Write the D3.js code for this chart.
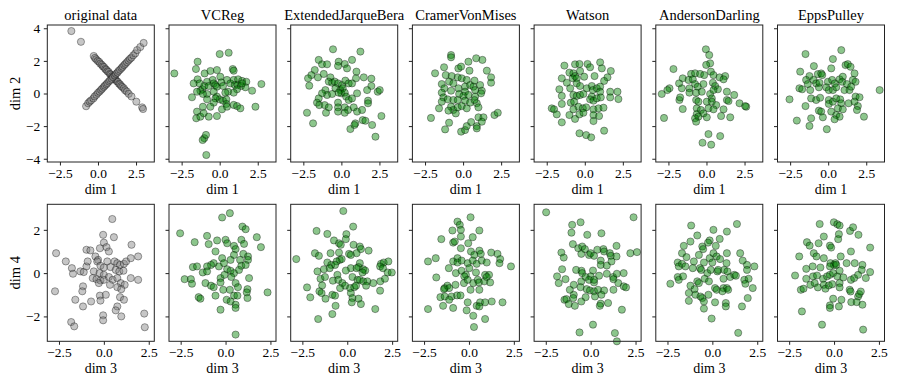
<!DOCTYPE html>
<meta charset="utf-8">
<style>

body {
  margin: 0;
  background: #fff;
}

text {
  font-family: "Liberation Serif", "DejaVu Serif", serif;
  fill: #000;
}

.frame {
  fill: none;
  stroke: #222;
  stroke-width: 1;
}

.tick line {
  stroke: #222;
}

</style>
<body>
<script src="https://cdn.jsdelivr.net/npm/d3@7"></script>
<script>

var methods = ["original data", "VCReg", "ExtendedJarqueBera", "CramerVonMises", "Watson", "AndersonDarling", "EppsPulley"];
var xLabels = ["dim 1", "dim 3"];
var yLabels = ["dim 2", "dim 4"];
var xTicks = [-2.5, 0, 2.5];
var yTicksTop = [-4, -2, 0, 2, 4];
var yTicksBottom = [-2, 0, 2];
var xDomainTop = [-3.33, 3.70];
var xDomainBottom = [-3.15, 2.81];
var yDomainTop = [-4.2, 4.2];
var yDomainBottom = [-3.15, 3.18];

// dims 1-2
var orig12 = [[-1.75,3.83],[-1.12,3.17],[-0.28,2.3],[-0.2,2.18],[-0.12,2.1],[-0.02,2.0],[0.08,1.94],[0.15,1.83],[0.25,1.76],[0.32,1.66],[0.4,1.62],[0.48,1.5],[0.55,1.46],[0.62,1.36],[0.7,1.32],[0.78,1.2],[0.85,1.16],[0.92,1.06],[1.0,1.02],[1.08,0.9],[1.15,0.86],[1.22,0.76],[1.3,0.72],[1.38,0.6],[1.45,0.56],[1.52,0.46],[1.6,0.4],[1.7,0.32],[1.78,0.2],[1.9,0.12],[2.02,-0.02],[2.2,-0.18],[2.52,-0.5],[2.9,-0.85],[2.96,-0.95],
  [-0.78,-0.78],[-0.65,-0.6],[-0.55,-0.5],[-0.45,-0.42],[-0.3,-0.3],[-0.22,-0.18],[-0.1,-0.08],[0.0,0.04],[0.1,0.12],[0.2,0.22],[0.28,0.3],[0.38,0.4],[0.45,0.48],[0.55,0.56],[0.62,0.64],[0.72,0.74],[0.8,0.82],[0.9,0.9],[0.98,1.0],[1.1,1.1],[1.18,1.2],[1.28,1.28],[1.35,1.38],[1.45,1.46],[1.55,1.56],[1.62,1.64],[1.72,1.74],[1.8,1.82],[1.9,1.92],[2.0,2.02],[2.1,2.12],[2.2,2.2],[2.32,2.34],[2.45,2.46],[2.57,2.66],[2.78,2.85],[3.0,3.1]];
var vcreg12 = [[-2.98,1.23],[-1.45,1.95],[-1.56,1.5],[-0.99,1.23],[-0.61,1.38],[-0.18,1.44],[0,2.42],[0.59,2.5],[0.86,1.5],[0.92,1.4],[-0.46,0.83],[0.48,0.83],[0.04,1.03],[-1.45,0.87],[-1.71,0.62],[-1.32,0.62],[-0.83,0.72],[-1.14,0.26],[-1.27,0.17],[-1.82,-0.23],[-1.49,0.11],[-1.01,0.46],[-0.72,0.46],[-0.39,0.62],[-0.28,0.52],[-0.18,0.42],[0.11,0.68],[0.22,0.46],[0.7,0.62],[0.92,0.83],[1.21,0.87],[1.47,0.77],[1.75,0.72],[0.99,0.52],[1.18,0.52],[1.4,0.46],[1.69,0.38],[2.13,0.17],[2.74,0.58],[1.14,0.26],[0.92,0.05],[0.55,0.11],[0.37,0.05],[-0.39,0.11],[-0.83,-0.03],[-1.1,-0.03],[-0.18,-0.19],[0,-0.36],[0.22,-0.44],[0.44,-0.36],[-0.28,-0.3],[-0.39,-0.56],[-0.83,-0.36],[-0.61,-0.81],[0.44,-0.64],[0.15,-0.97],[0.48,-0.81],[0.92,-0.7],[1.14,-0.77],[1.36,-0.91],[2.35,-0.81],[-1.1,-0.81],[-1.49,-1.11],[-1.54,-1.52],[-1.27,-1.42],[-1.05,-1.21],[-0.72,-1.42],[-0.18,-1.38],[-1.01,-2.74],[-1.12,-2.85],[-0.9,-2.54],[-0.88,-3.77],[1.47,0.62]];
var ejb12 = [[-0.55,2.71],[1.25,2.57],[-1.49,2.06],[-0.18,1.95],[0.22,1.81],[0.7,2.06],[0.37,1.54],[-1.27,1.79],[-0.94,1.79],[-0.22,1.69],[-1.75,1.44],[-1.97,1.13],[-2.19,0.93],[-2.11,0.48],[-1.54,0.99],[-1.16,1.2],[-0.72,0.99],[0.99,1.34],[0.96,0.93],[1.47,0.99],[1.97,0.91],[1.97,0.46],[2.39,0.11],[2.52,0.21],[1.69,0.21],[-0.83,0.73],[-0.61,0.66],[-0.44,0.73],[-0.22,0.62],[0.04,0.52],[0.26,0.79],[0.48,0.62],[0.7,0.62],[-1.05,0.21],[-0.94,-0.09],[-1.27,0.01],[-0.39,0.32],[-0.07,0.21],[0.09,0.32],[0,0.01],[0.22,0.05],[0.31,-0.19],[0.48,-0.4],[0.7,-0.3],[1.03,0.01],[-0.18,0.05],[-0.61,-0.03],[-1.49,-0.3],[-1.6,-0.56],[-1.45,-0.71],[-1.1,-0.71],[-0.83,-0.85],[-1.01,-1.18],[-0.22,-0.56],[-0.22,-0.85],[0.22,-0.85],[0.44,-1.01],[0.22,-1.18],[-0.22,-1.11],[0.81,-0.85],[1.03,-1.11],[1.36,-1.01],[1.75,-0.44],[1.75,-0.6],[-2.26,-1.18],[-1.86,-1.83],[0.59,-2.18],[0.92,-1.83],[0.86,-1.93],[1.4,-1.63],[1.58,-1.67],[2.02,-1.93],[2.24,-2.65],[2.63,-1.38]];
var cvm12 = [[-0.79,2.36],[-0.79,2.22],[0.86,2.16],[1.27,2.06],[0.35,1.95],[-1.25,1.61],[-0.31,1.54],[-0.13,1.65],[0.42,1.4],[1.56,1.4],[-1.84,1.24],[-1.14,1.13],[-0.75,1.07],[-0.35,0.99],[-0.09,0.93],[0.24,0.83],[0.75,0.79],[1.84,0.99],[1.84,0.66],[-1.4,0.58],[-0.92,0.73],[-0.64,0.62],[-1.23,0.32],[-0.79,0.17],[-0.31,0.32],[0.13,0.42],[0.46,0.52],[0.68,0.42],[1.12,0.52],[1.23,0.17],[0.79,0.21],[0.13,0.11],[-0.26,-0.03],[0.02,-0.15],[0.35,-0.09],[0.79,-0.19],[1.18,0.01],[-1.4,0.05],[-1.29,-0.24],[-1.4,-0.5],[-1.01,-0.36],[-0.64,-0.4],[-0.35,-0.4],[0.13,-0.44],[0.46,-0.56],[0.9,-0.6],[0.75,-0.4],[1.01,-0.85],[-0.79,-0.81],[-0.64,-1.01],[-0.48,-1.22],[-0.35,-0.85],[-0.09,-0.77],[0.24,-0.91],[-1.58,-0.91],[-0.96,-1.05],[-2.11,-1.5],[-0.92,-1.79],[-1.18,-2.2],[-0.13,-2.34],[0.13,-2.24],[0.24,-2.0],[0.53,-1.75],[0.9,-2.0],[0.9,-2.14],[1.01,-1.46],[1.34,-1.46],[1.23,-1.73],[2.06,-1.32],[2.28,-1.18]];
var watson12 = [[-1.34,1.71],[-0.64,1.79],[-0.35,1.81],[0.18,1.81],[0.35,1.61],[1.01,1.91],[1.12,1.54],[1.71,1.38],[-1.51,0.93],[-1.01,1.28],[-0.75,1.24],[-0.64,1.07],[-0.79,0.93],[-0.53,0.93],[-0.31,1.38],[-0.04,1.03],[0.64,1.07],[1.49,0.99],[1.27,0.77],[-1.18,0.66],[-0.53,0.62],[-0.31,0.46],[-0.96,0.32],[-1.67,0.26],[-1.51,-0.15],[-0.75,-0.09],[-0.53,-0.15],[-0.31,-0.09],[-0.09,-0.03],[0.13,0.32],[0.46,0.46],[0.53,0.21],[0.79,0.32],[1.01,0.42],[1.01,0.11],[1.67,0.11],[2.15,0.11],[2.21,-0.34],[1.67,-0.24],[0.46,-0.19],[0.35,-0.36],[0.57,-0.44],[0.79,-0.3],[1.05,-0.24],[-1.51,-0.64],[-0.92,-0.56],[-0.7,-0.5],[-0.42,-0.81],[-0.13,-0.91],[0.09,-0.85],[0.57,-0.97],[0.9,-0.91],[1.23,-0.87],[-0.75,-0.97],[-1.01,-1.32],[-0.35,-1.28],[-0.09,-1.18],[0.57,-1.32],[0.94,-1.38],[0.57,-1.69],[-2.17,-0.91],[-2.02,-0.97],[-1.84,-1.28],[-1.51,-1.77],[-0.64,-1.56],[1.27,-2.28],[-0.35,-2.44],[0.09,-2.55],[0.42,-2.69]];
var ad12 = [[-0.04,2.71],[0.18,2.36],[0.24,1.85],[-0.02,1.75],[-2.17,1.5],[-1.01,1.2],[-0.75,1.24],[-0.42,1.2],[-0.15,1.13],[0.29,1.34],[0.46,1.13],[0.86,0.99],[1.23,1.07],[1.12,0.87],[-1.56,0.93],[-1.18,0.83],[-0.9,0.87],[-0.75,0.58],[-1.8,0.62],[-1.62,0.32],[-2.43,0.32],[-2.57,0.21],[-2.94,-0.03],[-1.12,0.32],[-0.57,0.42],[-0.2,0.58],[0.42,0.66],[0.57,0.46],[0.75,0.26],[-1.12,0.05],[-0.68,0.05],[-0.31,0.11],[0.24,-0.03],[0.35,-0.3],[0.46,0.21],[1.34,0.11],[1.82,-0.09],[1.34,-0.4],[1.45,-0.46],[-1.78,-0.4],[-1.73,-0.24],[-0.68,-0.4],[-0.53,-0.5],[0.02,-0.5],[0.35,-0.5],[0.64,-0.71],[1.12,-0.97],[2.17,-0.6],[2.61,-0.81],[2.54,-0.77],[-1.56,-0.95],[-0.64,-0.91],[-0.37,-1.01],[0.13,-0.91],[0.46,-0.97],[-0.64,-1.26],[-0.2,-1.22],[-0.53,-1.42],[-0.75,-1.52],[-0.68,-1.73],[0.02,-1.46],[0.96,-1.38],[1.56,-1.46],[-2.79,-1.5],[0.13,-2.49],[0.9,-2.61],[-0.26,-3.02],[0.31,-3.14]];
var ep12 = [[-1.49,2.42],[0.86,2.66],[0.31,2.11],[-0.94,1.68],[-1.84,1.34],[1.14,1.74],[1.29,1.8],[1.47,1.64],[1.73,1.23],[0.2,1.54],[-1.23,1.07],[-0.68,1.19],[-0.46,1.23],[-0.39,1.13],[-1.45,0.83],[-1.34,0.58],[-0.96,0.83],[-0.79,0.62],[-0.61,0.38],[-0.57,0.66],[-0.02,0.72],[0.26,0.83],[0.44,0.62],[0.75,0.87],[0.96,1.03],[0.92,0.72],[1.23,0.58],[1.62,0.83],[1.8,0.72],[-1.89,0.32],[-1.71,0.26],[-1.18,0.21],[-0.13,0.38],[0.04,0.21],[0.31,0.21],[0.53,0.38],[1.07,0.21],[1.4,0.21],[1.51,0.42],[3.38,0.21],[-2.54,-0.36],[-1.49,-0.77],[-1.12,-0.3],[-0.79,-0.4],[-0.53,-0.26],[0.04,-0.4],[0.04,-0.64],[0.31,-0.5],[0.53,-0.3],[0.79,-0.36],[0.86,-0.6],[0.64,-0.91],[0.96,-0.97],[1.34,-0.6],[1.8,-0.19],[2.06,-0.23],[1.73,-0.5],[1.95,-0.77],[1.89,-1.01],[-0.61,-1.05],[-0.46,-1.11],[0.2,-1.11],[0.53,-1.32],[0.75,-1.42],[-0.35,-1.46],[0.42,-1.58],[2.35,-1.42],[-1.12,-1.52],[-2.06,-1.66],[-1.23,-1.99],[-0.09,-2.19]];

// dims 3-4
var orig34 = [[0.47,2.5],[-0.04,1.77],[0.56,1.66],[1.54,1.31],[0,1.41],[-0.22,1.15],[0.15,1.2],[0.28,1.0],[-0.97,1.08],[-0.75,1.05],[-2.66,0.92],[-2.12,0.54],[-1.78,0.23],[-1.72,-0.03],[-1.31,0.08],[-1.12,0.05],[-0.97,0.31],[-0.9,0.54],[-0.47,0.77],[-0.32,0.61],[-0.37,0.54],[0.19,0.54],[0.6,0.54],[0.75,0.46],[0.9,0.38],[1.12,0.43],[1.24,0.54],[1.5,0.69],[1.91,0.77],[-0.19,0.34],[0,0.26],[0.37,0.28],[0.66,0.15],[0.86,0.08],[1.09,0.11],[-0.56,0.08],[-0.24,0],[0,-0.08],[-0.62,-0.23],[-0.41,-0.28],[-0.19,-0.34],[-0.28,-0.46],[0,-0.31],[0.28,-0.18],[0.49,-0.31],[0.75,-0.23],[0.94,-0.46],[1.16,-0.54],[1.5,-0.23],[1.91,-0.31],[0.34,-0.54],[0.75,-0.65],[0.97,-0.74],[-1.16,-0.61],[-1.2,-0.84],[-2.72,-0.84],[-0.22,-1.04],[0.11,-1.0],[0.9,-1.11],[1.12,-1.23],[-1.59,-1.23],[-1.16,-1.54],[-0.71,-1.31],[-0.19,-1.27],[0.75,-1.54],[0.66,-1.72],[-0.04,-1.95],[-0.04,-2.18],[0.97,-2.0],[-1.82,-2.26],[-1.65,-2.46],[2.25,-1.87],[2.28,-2.5]];
var vcreg34 = [[-2.53,1.84],[-0.19,2.57],[0.24,2.77],[-1.72,1.43],[-1.03,1.72],[-0.47,1.51],[0,1.54],[-0.94,1.34],[-0.56,1.0],[0.09,1.38],[0.47,1.26],[0.56,1.11],[0.94,2.15],[1.12,2.03],[0.88,1.54],[1.03,1.35],[1.74,1.66],[1.97,1.2],[0.47,0.84],[0.99,0.89],[1.25,0.77],[1.25,0.61],[0.81,0.61],[0.28,0.61],[-0.19,0.69],[-0.66,0.46],[-0.81,0.38],[-1.03,0.31],[-1.82,0.28],[-1.59,0.31],[-1.27,0.03],[-1.03,0.08],[-0.37,0.31],[-0.09,0.46],[0.09,0.18],[0.28,0.11],[0.47,0],[0.75,0.15],[0.88,0.34],[1.12,0.38],[-0.28,-0.23],[-0.06,-0.08],[0.32,-0.18],[0.56,-0.46],[0.69,-0.65],[1.31,-0.23],[1.22,-0.74],[1.18,-0.89],[1.22,-1.15],[2.34,-0.89],[-2.28,-0.28],[-1.93,-0.28],[-1.87,-0.49],[-1.12,-0.46],[-0.81,-0.58],[-0.66,-0.65],[-0.28,-0.43],[-0.13,-0.77],[0.24,-0.77],[0.47,-1.04],[0.66,-1.04],[-0.56,-1.04],[0.06,-1.23],[0.28,-1.31],[0.56,-1.46],[0.56,-1.61],[-1.5,-1.11],[-1.4,-1.18],[-0.28,-1.69],[0.56,-2.84]];
var ejb34 = [[-0.22,2.87],[-1.71,1.95],[-1.11,1.81],[-0.05,1.8],[0.33,2.15],[-0.08,1.57],[-0.74,1.51],[-0.46,1.38],[-0.36,1.31],[0.35,1.31],[0.7,1.23],[0.76,1.11],[0.52,0.92],[1.19,1.04],[-1.8,0.92],[-1.58,0.8],[-0.93,0.92],[-0.46,0.95],[-0.42,0.61],[-0.31,0.65],[0.1,0.89],[0.2,0.84],[-2.84,0.65],[-1.11,0.49],[-0.89,0.38],[-0.59,0.54],[-0.68,0.38],[0.7,0.46],[0.63,0.28],[0.2,0.23],[0.52,0.23],[0.89,0.18],[1.0,0.12],[0.85,0.03],[1.88,0.43],[2.03,0.49],[2.29,0.54],[1.83,0.31],[1.99,0.23],[2.25,0.03],[2.48,0.03],[-1.66,0.08],[-1.3,0.18],[-0.98,0.23],[-0.55,-0.08],[-0.08,0.12],[0.29,-0.18],[0.57,-0.31],[0.7,-0.31],[0.89,-0.38],[1.12,-0.38],[1.45,-0.46],[1.84,-0.38],[2.1,-0.26],[-1.49,-0.26],[-1.24,-0.18],[-0.8,-0.35],[-0.5,-0.31],[-0.27,-0.46],[-0.12,-0.58],[-0.4,-0.69],[0.16,-0.69],[0.39,-0.65],[0.49,-0.58],[1.05,-0.58],[-2.24,-0.66],[-1.4,-0.57],[-1.55,-0.84],[-1.43,-0.92],[-0.83,-1.0],[-0.68,-1.04],[-1.21,-1.18],[-2.06,-1.12],[0.2,-0.92],[0.29,-1.15],[0.25,-1.35],[0.63,-1.18],[0.76,-1.43],[1.83,-0.81],[-0.65,-1.51],[1.56,-1.66],[-0.83,-1.89],[-1.62,-2.12]];
var cvm34 = [[0.09,2.58],[-0.64,2.38],[-0.51,2.23],[-0.92,1.97],[-0.45,2.0],[0.58,1.97],[-1.54,1.57],[-0.88,1.41],[-0.79,1.46],[-0.45,1.69],[0.21,1.66],[-0.04,1.38],[-0.45,1.15],[0.11,1.0],[0.3,0.84],[0.58,1.04],[0.66,0.89],[1.24,0.95],[1.59,0.89],[1.74,0.65],[1.7,0.46],[2.34,0.31],[-2.28,0.54],[-1.85,0.69],[-0.88,0.54],[-0.64,0.69],[-0.64,0.49],[-0.41,0.58],[-0.07,0.46],[0.21,0.58],[0.43,0.43],[0.71,0.58],[0.99,0.49],[-1.12,0.23],[-0.73,0],[-0.41,0.11],[-0.17,-0.08],[-0.26,-0.15],[0.02,0.23],[0.39,0.03],[0.9,-0.08],[1.12,-0.08],[-1.82,-0.2],[-1.35,-0.69],[-1.2,-0.58],[-1.1,-0.69],[-1.39,-0.74],[-0.75,-0.54],[-0.28,-0.46],[-0.07,-0.31],[0.24,-0.46],[0.49,-0.31],[0.56,-0.43],[0.58,-0.77],[0.09,-0.77],[0.86,-0.38],[0.99,-0.18],[1.18,-0.43],[-1.59,-1.11],[-1.35,-1.08],[-0.97,-1.08],[-0.66,-1.03],[-0.47,-1.03],[-1.44,-1.51],[-0.88,-1.61],[-1.1,-1.23],[-0.07,-1.35],[0.43,-1.51],[0.62,-1.35],[0.9,-1.35],[1.27,-1.31],[1.87,-1.35],[0.58,-1.54],[-0.13,-1.72],[0.24,-1.97],[0.9,-2.12],[0.28,-2.49],[-2.28,-1.66]];
var watson34 = [[-2.48,2.81],[2.39,2.58],[-1.03,2.23],[-0.56,2.35],[-1.07,1.87],[-0.19,1.77],[0.6,1.84],[-0.99,1.34],[-0.69,1.15],[-0.47,1.23],[-0.52,0.89],[-0.32,1.11],[-1.63,0.95],[-1.5,0.72],[-0.09,0.84],[0,0.92],[0.19,0.8],[0.37,1.08],[0.71,1.11],[0.75,1.0],[1.07,0.92],[1.12,0.8],[1.44,1.26],[1.44,0.77],[2.21,0.92],[2.58,0.97],[0.56,0.58],[0.56,0.38],[1.16,0.54],[0.9,0.35],[-1.59,0.18],[-0.81,0.15],[-0.51,0.11],[-0.47,0],[0.13,0.12],[0,-0.15],[0.47,-0.12],[0.9,-0.03],[1.25,-0.18],[1.46,-0.03],[1.84,0],[-1.87,-0.15],[-1.78,-0.46],[-1.4,-0.28],[-0.94,-0.54],[-0.52,-0.38],[-0.28,-0.18],[-0.09,-0.31],[0.19,-0.43],[0.19,-0.31],[1.27,-0.28],[1.54,-0.46],[1.27,-0.77],[1.84,-0.61],[1.97,-0.66],[-1.16,-0.77],[-0.56,-0.65],[-0.22,-0.74],[-0.04,-0.8],[0.19,-0.84],[0.41,-0.77],[0.75,-0.8],[-0.94,-1.0],[-0.97,-1.15],[-0.28,-1.11],[0.24,-1.08],[0.6,-1.0],[-1.46,-1.23],[-1.35,-1.2],[-1.22,-1.43],[-0.88,-1.51],[-0.52,-1.31],[0.56,-1.41],[0.51,-1.51],[0.97,-1.38],[1.74,-1.69],[0.13,-2.38],[-0.62,-2.74],[1.35,-2.77],[1.46,-3.15]];
var ad34 = [[-1.18,2.2],[1.37,2.27],[0.06,2.0],[0.81,1.92],[-0.84,1.74],[-1.22,1.46],[0.41,1.58],[-0.15,1.51],[-0.24,1.41],[-1.59,1.26],[-0.56,1.23],[-0.51,1.11],[0.19,1.26],[-1.69,0.92],[-1.44,0.74],[-1.03,0.54],[-0.75,0.84],[-0.47,0.49],[-0.15,0.69],[0.06,0.92],[0.24,0.77],[0,0.49],[0.43,0.65],[0.81,0.92],[0.79,0.46],[1.55,0.92],[1.69,0.58],[1.93,0.38],[1.93,0.15],[2.34,0.31],[-1.93,0.49],[-1.87,0.31],[-1.69,0.43],[-1.5,0.31],[-1.09,0.23],[-0.69,0.23],[-0.62,0.15],[-0.28,0],[-0.09,0.15],[0.28,0.08],[0.32,0.15],[0.66,0.15],[0.84,0.08],[0.99,-0.18],[1.22,-0.08],[1.31,-0.12],[-1.93,-0.18],[-1.87,-0.31],[-1.63,-0.15],[-2.34,-0.49],[-0.84,-0.38],[-0.75,-0.46],[-0.43,-0.26],[-0.19,-0.38],[0.62,-0.26],[1.78,-0.31],[2.02,-0.26],[1.84,-0.49],[2.25,-0.69],[-1.22,-0.58],[-0.99,-0.74],[0.15,-0.69],[0.24,-0.77],[0.62,-0.69],[0.81,-0.69],[0.88,-0.77],[-1.31,-0.92],[-0.94,-1.0],[-0.66,-1.08],[-0.56,-1.15],[-0.22,-1.0],[0.56,-0.84],[-1.31,-1.28],[-0.47,-1.31],[-0.47,-1.64],[0.15,-1.35],[0.75,-1.38],[0.75,-1.54],[1.97,-1.15],[1.65,-1.54],[-0.04,-2.1],[1.44,-2.76]];
var ep34 = [[-0.8,2.27],[-0.01,2.35],[0.18,2.26],[0.31,2.2],[0.89,1.95],[1.06,2.12],[1.36,1.77],[0.27,1.8],[-0.57,1.69],[-1.51,1.43],[-1.36,1.27],[-0.86,1.38],[-0.23,1.27],[-0.16,1.18],[0.23,1.57],[2.01,1.18],[-1.94,0.77],[-1.13,0.92],[-0.98,0.77],[-0.57,0.69],[0.37,0.77],[0.94,1.0],[-1.19,0.31],[-0.76,0.26],[-0.2,0.46],[-0.01,0.38],[0.08,0.46],[0.12,0.38],[-0.23,0.31],[0.7,0.46],[1.15,0.46],[1.58,0.38],[1.54,0.15],[2.01,0.05],[-1.55,0.2],[-2.17,-0.11],[-1.55,-0.26],[-1.17,-0.15],[-0.95,-0.11],[-0.61,-0.26],[-0.39,-0.15],[-0.23,-0.08],[-0.05,0],[0.18,-0.15],[0.31,0.11],[0.52,-0.2],[0.94,-0.31],[1.12,-0.23],[1.34,-0.08],[1.77,-0.23],[-1.85,-0.77],[-1.7,-0.72],[-1.32,-0.54],[-1.08,-0.46],[-0.9,-0.66],[-0.57,-0.54],[-0.48,-0.72],[-0.29,-0.57],[-0.1,-0.51],[0.31,-0.46],[0.31,-0.66],[0.87,-0.77],[0.92,-0.85],[1.34,-1.08],[1.4,-0.97],[1.49,-0.85],[0.96,-1.34],[1.26,-1.34],[1.58,-1.46],[-0.05,-1.18],[0.41,-1.23],[-0.23,-1.49],[-0.23,-1.61],[0.27,-1.54],[-1.79,-1.77],[-0.67,-2.38],[1.62,-2.61]];

var topRow = [orig12, vcreg12, ejb12, cvm12, watson12, ad12, ep12];
var bottomRow = [orig34, vcreg34, ejb34, cvm34, watson34, ad34, ep34];

var width = 897, height = 385;
var panelW = 107, panelH = 137;
var rowTop = [25, 204.3];

var svg = d3.select("body").append("svg")
    .attr("width", width)
    .attr("height", height)
    .style("display", "block");

var rows = [
  { data: topRow, xd: xDomainTop, yd: yDomainTop, yt: yTicksTop },
  { data: bottomRow, xd: xDomainBottom, yd: yDomainBottom, yt: yTicksBottom }
];

var fmtX = d3.format(".1f"), fmtY = d3.format("d");

rows.forEach(function(row, r) {
  row.data.forEach(function(pts, c) {
    var left = 47.3 + 121.7 * c;
    var g = svg.append("g").attr("transform", "translate(" + left + "," + rowTop[r] + ")");

    var x = d3.scaleLinear().domain(row.xd).range([0, panelW]);
    var y = d3.scaleLinear().domain(row.yd).range([panelH, 0]);

    var isOrig = c === 0;
    g.selectAll("circle")
      .data(pts)
      .enter().append("circle")
        .attr("cx", function(d) { return x(d[0]); })
        .attr("cy", function(d) { return y(d[1]); })
        .attr("r", 3.6)
        .attr("fill", isOrig ? "#808080" : "#008000")
        .attr("fill-opacity", 0.45)
        .attr("stroke", "#000")
        .attr("stroke-opacity", 0.4)
        .attr("stroke-width", 0.9);

    var xa = g.append("g")
      .attr("transform", "translate(0," + panelH + ")")
      .call(d3.axisBottom(x).tickValues(xTicks).tickFormat(fmtX).tickSize(3.5).tickPadding(2.5).tickSizeOuter(0));
    var ya = g.append("g")
      .call(d3.axisLeft(y).tickValues(row.yt).tickFormat(c === 0 ? fmtY : "").tickSize(3.5).tickPadding(3.5).tickSizeOuter(0));
    [xa, ya].forEach(function(a) {
      a.select(".domain").remove();
      a.selectAll("text").style("font-size", "13.5px").attr("fill", "#000");
    });

    g.append("rect")
      .attr("class", "frame")
      .attr("width", panelW)
      .attr("height", panelH);

    g.append("text")
      .attr("x", panelW / 2)
      .attr("y", panelH + 32)
      .attr("text-anchor", "middle")
      .style("font-size", "14px")
      .text(xLabels[r]);

    if (r === 0) {
      g.append("text")
        .attr("x", panelW / 2)
        .attr("y", -5.5)
        .attr("text-anchor", "middle")
        .style("font-size", "14.5px")
        .text(methods[c]);
    }

    if (c === 0) {
      g.append("text")
        .attr("transform", "translate(-27," + (panelH / 2) + ") rotate(-90)")
        .attr("text-anchor", "middle")
        .style("font-size", "14.5px")
        .text(yLabels[r]);
    }
  });
});

</script>
